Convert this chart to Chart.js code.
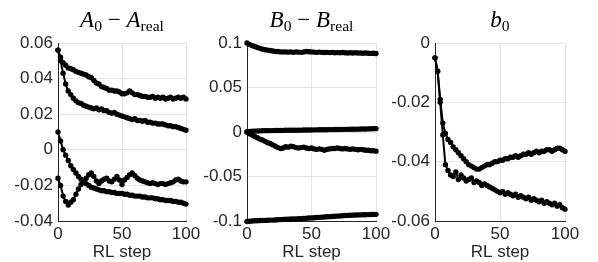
<!DOCTYPE html>
<html>
<head>
<meta charset="utf-8">
<script src="https://cdn.jsdelivr.net/npm/chart.js@4.4.1/dist/chart.umd.min.js"></script>
<style>
  html, body { margin: 0; padding: 0; background: #fff; }
  #wrap { position: relative; width: 598px; height: 262px; overflow: hidden; }
  canvas { position: absolute; top: 0; }
  .title {
    position: absolute; top: 7px; text-align: center;
    font-family: "Liberation Serif", "DejaVu Serif", serif; font-size: 23px; color: #000;
    white-space: nowrap;
  }
  .title sub { font-size: 68%; font-style: normal; vertical-align: -0.28em; line-height: 0; }
</style>
</head>
<body>
<div id="wrap">
  <canvas id="cA" width="200" height="262" style="left:0px;width:200px;height:262px"></canvas>
  <canvas id="cB" width="190" height="262" style="left:200px;width:190px;height:262px"></canvas>
  <canvas id="cC" width="208" height="262" style="left:390px;width:208px;height:262px"></canvas>
  <div class="title" style="left:58px;width:128px"><i>A</i><sub>0</sub> &minus; <i>A</i><sub>real</sub></div>
  <div class="title" style="left:247px;width:129px"><i>B</i><sub>0</sub> &minus; <i>B</i><sub>real</sub></div>
  <div class="title" style="left:435px;width:130px"><i>b</i><sub>0</sub></div>
</div>
<script>
// RL steps (sampled every 2 steps)
const steps = [0, 2, 4, 6, 8, 10, 12, 14, 16, 18, 20, 22, 24, 26, 28, 30, 32, 34, 36, 38,
  40, 42, 44, 46, 48, 50, 52, 54, 56, 58, 60, 62, 64, 66, 68, 70, 72, 74, 76, 78,
  80, 82, 84, 86, 88, 90, 92, 94, 96, 98, 100];

// A0 - Areal
const aTop = [0.056, 0.052, 0.049, 0.0475, 0.046, 0.0455, 0.045, 0.044, 0.0435, 0.043,
  0.0425, 0.042, 0.041, 0.0405, 0.039, 0.0375, 0.037, 0.0355, 0.035, 0.0345,
  0.0335, 0.0335, 0.033, 0.033, 0.0325, 0.0315, 0.0315, 0.032, 0.033, 0.032,
  0.031, 0.031, 0.0305, 0.030, 0.030, 0.0295, 0.0295, 0.030, 0.029, 0.0295,
  0.029, 0.0295, 0.0285, 0.029, 0.0295, 0.0285, 0.029, 0.0295, 0.029, 0.0295, 0.0285];
const aMid = [0.056, 0.050, 0.043, 0.037, 0.033, 0.031, 0.029, 0.0275, 0.0265, 0.026,
  0.025, 0.0245, 0.024, 0.0235, 0.023, 0.0235, 0.0225, 0.023, 0.022, 0.022,
  0.021, 0.0205, 0.021, 0.020, 0.0195, 0.019, 0.0185, 0.018, 0.0175, 0.017,
  0.0175, 0.0165, 0.0165, 0.016, 0.0165, 0.0155, 0.0155, 0.015, 0.015, 0.0145,
  0.0145, 0.0145, 0.014, 0.0135, 0.0135, 0.013, 0.013, 0.0125, 0.012, 0.0115, 0.011];
const aLow = [0.010, 0.005, 0.000, -0.003, -0.006, -0.009, -0.011, -0.013, -0.015, -0.0165,
  -0.018, -0.019, -0.020, -0.021, -0.0215, -0.022, -0.0225, -0.023, -0.023, -0.0235,
  -0.0235, -0.024, -0.024, -0.0245, -0.0245, -0.0245, -0.025, -0.025, -0.0255, -0.0255,
  -0.026, -0.026, -0.026, -0.0265, -0.0265, -0.027, -0.027, -0.027, -0.0275, -0.0275,
  -0.028, -0.028, -0.0285, -0.0285, -0.0285, -0.029, -0.029, -0.0295, -0.0295, -0.030, -0.0305];
const aDip = [-0.016, -0.020, -0.026, -0.029, -0.031, -0.0295, -0.028, -0.025, -0.022, -0.0195,
  -0.018, -0.016, -0.014, -0.013, -0.015, -0.0175, -0.019, -0.0175, -0.0165, -0.016,
  -0.0175, -0.018, -0.0165, -0.015, -0.017, -0.0195, -0.017, -0.0155, -0.014, -0.013,
  -0.0145, -0.016, -0.017, -0.0175, -0.018, -0.0185, -0.019, -0.0185, -0.019, -0.0195,
  -0.019, -0.019, -0.0195, -0.019, -0.0185, -0.018, -0.017, -0.0165, -0.0175, -0.018, -0.018];

// B0 - Breal
const bTop = [0.100, 0.0985, 0.097, 0.096, 0.095, 0.094, 0.093, 0.0925, 0.092, 0.0915,
  0.091, 0.0905, 0.0905, 0.090, 0.090, 0.090, 0.0898, 0.090, 0.0895, 0.090,
  0.0898, 0.0895, 0.090, 0.0905, 0.0902, 0.090, 0.0898, 0.0895, 0.0898, 0.0895,
  0.0893, 0.0895, 0.0892, 0.0895, 0.089, 0.0892, 0.089, 0.0893, 0.089, 0.0888,
  0.089, 0.0888, 0.089, 0.0887, 0.0888, 0.0885, 0.0887, 0.0885, 0.0883, 0.0885, 0.0882];
const bZero = [0.000, 0.0005, 0.0008, 0.001, 0.0012, 0.0013, 0.0014, 0.0015, 0.0015, 0.0016,
  0.0016, 0.0017, 0.0017, 0.0018, 0.0018, 0.0019, 0.0019, 0.002, 0.002, 0.002,
  0.0021, 0.0021, 0.0022, 0.0022, 0.0023, 0.0023, 0.0024, 0.0024, 0.0025, 0.0025,
  0.0026, 0.0026, 0.0027, 0.0027, 0.0028, 0.0028, 0.0029, 0.0029, 0.003, 0.003,
  0.0031, 0.0031, 0.0032, 0.0032, 0.0033, 0.0034, 0.0034, 0.0035, 0.0036, 0.0037, 0.0038];
const bMid = [0.000, -0.002, -0.0035, -0.005, -0.0065, -0.008, -0.009, -0.0105, -0.012, -0.013,
  -0.0145, -0.016, -0.0175, -0.0185, -0.018, -0.0165, -0.017, -0.016, -0.0165, -0.0175,
  -0.018, -0.0175, -0.017, -0.018, -0.0185, -0.018, -0.019, -0.0195, -0.019, -0.0195,
  -0.0205, -0.0195, -0.019, -0.0185, -0.0185, -0.018, -0.0185, -0.019, -0.0185, -0.019,
  -0.0195, -0.019, -0.0195, -0.020, -0.0195, -0.020, -0.0205, -0.0205, -0.021, -0.021, -0.0215];
const bLow = [-0.1005, -0.1003, -0.100, -0.0998, -0.0997, -0.0995, -0.0995, -0.0993, -0.0992, -0.099,
  -0.099, -0.0988, -0.0986, -0.0984, -0.0982, -0.098, -0.0979, -0.0978, -0.0977, -0.0976,
  -0.0975, -0.0973, -0.0971, -0.0969, -0.0967, -0.0965, -0.0963, -0.0961, -0.0959, -0.0957,
  -0.0955, -0.0953, -0.0951, -0.0949, -0.0947, -0.0945, -0.0943, -0.0941, -0.0939, -0.0937,
  -0.0935, -0.0934, -0.0933, -0.0932, -0.0931, -0.093, -0.0929, -0.0928, -0.0927, -0.0926, -0.0925];

// b0
const b0Low = [-0.005, -0.0095, -0.020, -0.031, -0.041, -0.043, -0.0445, -0.045, -0.0435, -0.046,
  -0.0445, -0.0455, -0.0465, -0.046, -0.0455, -0.047, -0.0465, -0.047, -0.048, -0.0475,
  -0.048, -0.0485, -0.049, -0.0495, -0.050, -0.0505, -0.050, -0.051, -0.0505, -0.051,
  -0.0515, -0.051, -0.052, -0.0515, -0.052, -0.0525, -0.052, -0.053, -0.0525, -0.053,
  -0.0535, -0.053, -0.054, -0.0535, -0.054, -0.0545, -0.054, -0.055, -0.0545, -0.0555, -0.056];
const b0High = [-0.005, -0.0095, -0.019, -0.027, -0.0305, -0.0325, -0.0335, -0.035, -0.036, -0.037,
  -0.038, -0.039, -0.040, -0.041, -0.0415, -0.042, -0.0425, -0.0425, -0.042, -0.0415,
  -0.041, -0.041, -0.0405, -0.040, -0.040, -0.0395, -0.0395, -0.039, -0.039, -0.0385,
  -0.0385, -0.038, -0.0385, -0.038, -0.0375, -0.0375, -0.037, -0.0375, -0.037, -0.0365,
  -0.037, -0.0365, -0.0365, -0.036, -0.036, -0.0365, -0.036, -0.0355, -0.0355, -0.036, -0.0365];

const xTicks = [0, 50, 100];
const tickFont = { family: '"Liberation Sans", Arial, sans-serif', size: 17 };
const axisColor = '#262626';
const gridColor = '#e3e3e3';

const fmt = (v) => String(Number(v.toFixed(4)));

function series(values) {
  return {
    data: steps.map((s, i) => ({ x: s, y: values[i] })),
    borderColor: '#000',
    borderWidth: 2,
    pointRadius: 2.7,
    pointBackgroundColor: '#000',
    pointBorderWidth: 0,
    pointHoverRadius: 0,
    clip: false,
    tension: 0,
  };
}

function makePanel(id, list, yMin, yMax, yStep, yAxisWidth, padRight) {
  new Chart(document.getElementById(id), {
    type: 'line',
    data: { datasets: list.map(series) },
    options: {
      responsive: false,
      animation: false,
      events: [],
      layout: { padding: { top: 43, right: padRight, left: 0, bottom: 0 } },
      plugins: { legend: { display: false }, tooltip: { enabled: false } },
      scales: {
        x: {
          type: 'linear', min: 0, max: 100,
          afterBuildTicks: (s) => { s.ticks = xTicks.map(v => ({ value: v })); },
          afterFit: (s) => { s.height = 41; s.paddingLeft = 0; s.paddingRight = 0; },
          grid: { color: gridColor, drawTicks: false },
          border: { color: axisColor, width: 1 },
          ticks: { color: axisColor, font: tickFont, padding: 3, maxRotation: 0 },
          title: { display: true, text: 'RL step', color: axisColor, font: tickFont, padding: { top: 0, bottom: -1 } },
        },
        y: {
          min: yMin, max: yMax,
          ticks: { stepSize: yStep, color: axisColor, font: tickFont, padding: 5, callback: fmt },
          afterFit: (s) => { s.width = yAxisWidth; s.paddingTop = 0; s.paddingBottom = 0; },
          grid: { color: gridColor, drawTicks: false },
          border: { color: axisColor, width: 1 },
        },
      },
    },
  });
}

makePanel('cA', [aTop, aMid, aLow, aDip], -0.04, 0.06, 0.02, 58, 14);
makePanel('cB', [bTop, bZero, bMid, bLow], -0.1, 0.1, 0.05, 47, 14);
makePanel('cC', [b0Low, b0High], -0.06, 0, 0.02, 45, 33);
</script>
</body>
</html>
